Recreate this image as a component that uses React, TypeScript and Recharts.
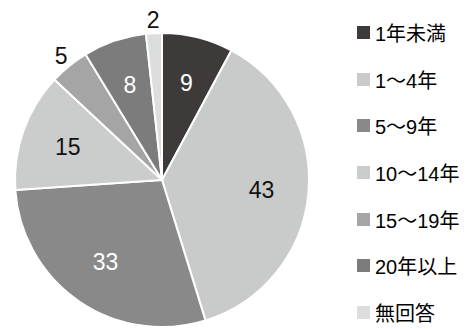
import React from 'react';
import { PieChart, Pie, Cell } from 'recharts';

const categories = ['1年未満', '1～4年', '5～9年', '10～14年', '15～19年', '20年以上', '無回答'];
const values = [9, 43, 33, 15, 5, 8, 2];
const colors = ['#3e3a39', '#c9caca', '#898989', '#cbcccc', '#a5a5a5', '#7c7c7c', '#dcdddd'];
const labelColors = ['#ffffff', '#111111', '#ffffff', '#111111', '#111111', '#ffffff', '#111111'];

const data = categories.map((name, i) => ({ name, value: values[i] }));

const FONT = '"Liberation Sans", Arial, "Noto Sans CJK JP", sans-serif';
const RADIAN = Math.PI / 180;

const renderLabel = (props: any) => {
  const { cx, cy, midAngle, outerRadius, value, index } = props;
  // small slices get their number outside the pie
  const r = value < 6 ? outerRadius + 13 : outerRadius * 0.68;
  const x = cx + r * Math.cos(-midAngle * RADIAN);
  const y = cy + r * Math.sin(-midAngle * RADIAN);
  return (
    <text
      x={x}
      y={y}
      fill={labelColors[index]}
      textAnchor="middle"
      dominantBaseline="central"
      fontSize={23}
      fontFamily={FONT}
    >
      {value}
    </text>
  );
};

export default function App() {
  return (
    <div style={{ position: 'absolute', left: 0, top: 0, width: 471, height: 329, background: '#fff' }}>
      <PieChart width={345} height={329} margin={{ top: 0, right: 0, bottom: 0, left: 0 }}>
        <Pie
          data={data}
          dataKey="value"
          cx={162}
          cy={180}
          outerRadius={147}
          startAngle={90}
          endAngle={-270}
          stroke="#ffffff"
          strokeWidth={2}
          label={renderLabel}
          labelLine={false}
          isAnimationActive={false}
        >
          {data.map((d, i) => (
            <Cell key={d.name} fill={colors[i]} />
          ))}
        </Pie>
      </PieChart>
      <div style={{ position: 'absolute', left: 357, top: 9, fontFamily: FONT }}>
        {categories.map((name, i) => (
          <div
            key={name}
            style={{ display: 'flex', alignItems: 'center', height: 46.7, fontSize: 20, color: '#000', whiteSpace: 'nowrap' }}
          >
            <span
              style={{ width: 13, height: 13, background: colors[i], marginRight: 5, display: 'inline-block' }}
            />
            {name}
          </div>
        ))}
      </div>
    </div>
  );
}
